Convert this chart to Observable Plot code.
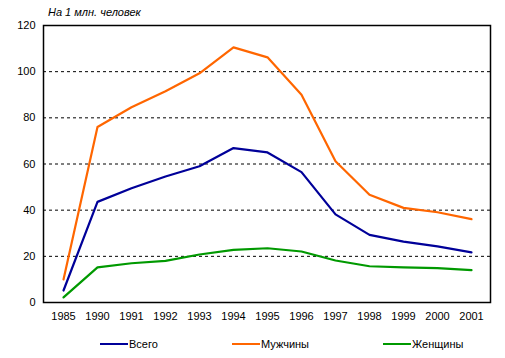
<!DOCTYPE html>
<html>
<head>
<meta charset="utf-8">
<script src="https://cdn.jsdelivr.net/npm/d3@7"></script>
<script src="https://cdn.jsdelivr.net/npm/@observablehq/plot@0.6"></script>
<style>
  html, body { margin: 0; padding: 0; background: #fff; }
  #wrap { position: relative; width: 505px; height: 358px; font-family: "Liberation Sans", Arial, sans-serif; }
  #title { position: absolute; left: 48px; top: 6px; font-size: 11px; font-style: italic; color: #000; }
  #legend { position: absolute; top: 337px; left: 0; width: 505px; height: 16px; font-size: 11px; }
  .item { position: absolute; display: flex; align-items: center; height: 14px; }
  .sw { width: 28px; height: 2px; margin-right: 1px; }
</style>
</head>
<body>
<div id="wrap">
  <div id="chart"></div>
  <div id="title">На 1 млн. человек</div>
  <div id="legend"></div>
</div>
<script>
const years = ["1985","1990","1991","1992","1993","1994","1995","1996","1997","1998","1999","2000","2001"];
const seriesNames = ["Всего", "Мужчины", "Женщины"];
const total = [5.2, 43.6, 49.5, 54.6, 59, 66.9, 65, 56.5, 38.2, 29.3, 26.4, 24.3, 21.7];
const men = [10, 76, 84.6, 91.5, 99.3, 110.5, 106.2, 90, 61.2, 46.7, 41, 39.1, 36.1];
const women = [2.2, 15.2, 17, 18, 20.8, 22.8, 23.5, 22.1, 18.2, 15.7, 15.2, 14.9, 14];
const yTicks = [0, 20, 40, 60, 80, 100, 120];
const gridTicks = [20, 40, 60, 80, 100];
const colors = ["#000099", "#ff6600", "#009900"];

const rows = [];
[total, men, women].forEach((arr, si) => {
  arr.forEach((v, i) => rows.push({year: years[i], value: v, series: seriesNames[si]}));
});

const chart = Plot.plot({
  width: 505,
  height: 358,
  marginLeft: 43,
  marginRight: 15,
  marginTop: 25,
  marginBottom: 56,
  style: {fontFamily: "'Liberation Sans', Arial, sans-serif", fontSize: "11px", color: "#000", background: "#fff"},
  x: {type: "point", domain: years, padding: 0.5, label: null, tickSize: 0, tickPadding: 10},
  y: {domain: [0, 120], ticks: yTicks, label: null, tickSize: 0, tickPadding: 8},
  color: {domain: seriesNames, range: colors},
  marks: [
    Plot.ruleY(gridTicks, {stroke: "#000", strokeWidth: 1, strokeDasharray: "3,3"}),
    Plot.line(rows, {x: "year", y: "value", z: "series", stroke: "series", strokeWidth: 2.2, strokeLinejoin: "round"}),
    Plot.frame({stroke: "#000", strokeWidth: 1.5}),
    Plot.axisX({tickSize: 0, tickPadding: 10, fontSize: 11}),
    Plot.axisY({ticks: yTicks, tickSize: 0, tickPadding: 8, fontSize: 11})
  ]
});
document.getElementById("chart").appendChild(chart);

const legendPos = [100, 232, 383];
const legend = document.getElementById("legend");
seriesNames.forEach((name, i) => {
  const it = document.createElement("div");
  it.className = "item";
  it.style.left = legendPos[i] + "px";
  const sw = document.createElement("div");
  sw.className = "sw";
  sw.style.background = colors[i];
  const t = document.createElement("span");
  t.textContent = name;
  it.appendChild(sw);
  it.appendChild(t);
  legend.appendChild(it);
});
</script>
</body>
</html>
